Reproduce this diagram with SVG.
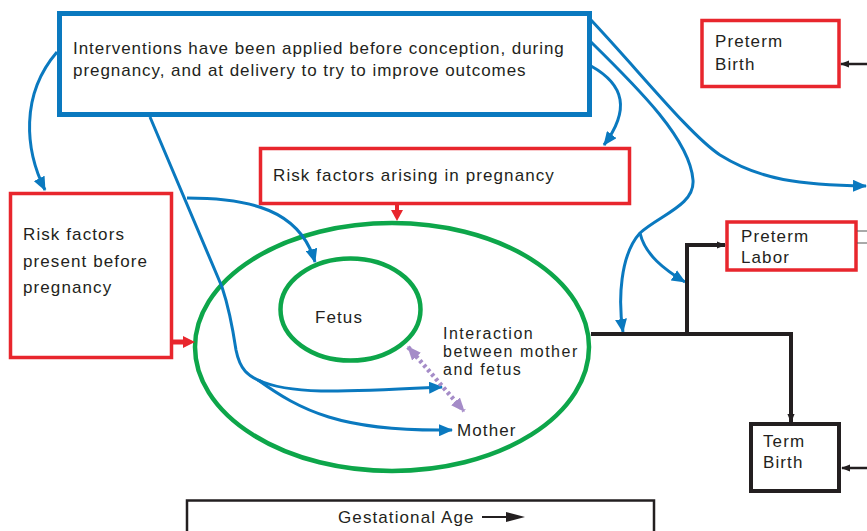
<svg xmlns="http://www.w3.org/2000/svg" width="867" height="531" viewBox="0 0 867 531">
<style>
text{font-family:"Liberation Sans",Arial,Helvetica,sans-serif;font-size:17px;letter-spacing:1.1px;fill:#231f20}
.sm{font-size:16px;letter-spacing:1.5px}
.top{letter-spacing:0.95px}
.red{fill:#fff;stroke:#e8262d;stroke-width:3.5}
.blue{fill:none;stroke:#0a79bf;stroke-width:3}
.green{fill:none;stroke:#0da64a;stroke-width:4.5}
.blk{fill:none;stroke:#231f20;stroke-width:4}
</style>
<defs>
<marker id="ab" viewBox="0 0 14 12" refX="13" refY="6" markerWidth="14" markerHeight="12" markerUnits="userSpaceOnUse" orient="auto"><path d="M0,0L14,6L0,12Z" fill="#0a79bf"/></marker>
<marker id="ak" viewBox="0 0 10 8" refX="9" refY="4" markerWidth="9" markerHeight="8" markerUnits="userSpaceOnUse" orient="auto"><path d="M0,0L10,4L0,8Z" fill="#231f20"/></marker>
<marker id="ap" viewBox="0 0 12 10" refX="11" refY="5" markerWidth="14" markerHeight="12" markerUnits="userSpaceOnUse" orient="auto-start-reverse"><path d="M0,0L12,5L0,10Z" fill="#a58cc8"/></marker>
</defs>

<g id="mother-ellipse"><ellipse class="green" cx="392" cy="347" rx="197" ry="124"/><text x="457" y="436">Mother</text></g>
<g id="fetus"><ellipse class="green" cx="350.5" cy="309.5" rx="70" ry="51"/><text x="315" y="323">Fetus</text></g>
<g id="interaction"><text class="sm" x="443" y="339">Interaction</text><text class="sm" x="443" y="357">between mother</text><text class="sm" x="443" y="375">and fetus</text></g>

<g id="interventions"><rect x="59.5" y="13.5" width="530" height="101" fill="#fff" stroke="#0a79bf" stroke-width="5"/>
<text class="top" x="73" y="54">Interventions have been applied before conception, during</text>
<text class="top" x="73" y="76">pregnancy, and at delivery to try to improve outcomes</text></g>

<g id="risk-before"><rect class="red" x="10.5" y="193.5" width="161" height="164"/>
<text x="23" y="240">Risk factors</text><text x="23" y="267">present before</text><text x="23" y="293">pregnancy</text></g>

<g id="risk-arising"><rect class="red" x="260.5" y="148.5" width="369" height="55"/>
<text x="273" y="181">Risk factors arising in pregnancy</text></g>

<g id="preterm-birth"><rect class="red" x="702" y="20.5" width="137" height="66"/>
<text x="715" y="47">Preterm</text><text x="715" y="70">Birth</text></g>

<g id="preterm-labor"><rect class="red" x="727" y="222" width="129" height="48"/>
<text x="741" y="242">Preterm</text><text x="741" y="263">Labor</text></g>

<g id="term-birth"><rect x="751" y="424" width="88" height="67" fill="#fff" stroke="#231f20" stroke-width="4"/>
<text x="763" y="447">Term</text><text x="763" y="468">Birth</text></g>

<g id="gestational-age"><path d="M187,531V500.5H654V531" fill="none" stroke="#231f20" stroke-width="2.5"/>
<text x="338" y="523">Gestational Age</text>
<path d="M482,517H508" stroke="#231f20" stroke-width="2"/><path d="M506,512L525,517L506,522Z" fill="#231f20"/></g>

<g id="connectors">
<path class="blue" d="M57,52C20,95 25,150 45,190" marker-end="url(#ab)"/>
<path class="blue" d="M150,117L222,287C228,305 233,330 236,350C240,370 248,376 262,382"/>
<path class="blue" d="M258,380C290,395 340,392 442,387" marker-end="url(#ab)"/>
<path class="blue" d="M258,380C300,410 340,432 452,430" marker-end="url(#ab)"/>
<path class="blue" d="M187,198C250,198 300,210 315,262" marker-end="url(#ab)"/>
<path class="blue" d="M591,20C640,72 690,135 720,155C760,180 800,185 866,186" marker-end="url(#ab)"/>
<path class="blue" d="M591,42C640,90 690,140 693,180C695,205 660,215 640,233C620,255 618,300 623,332" marker-end="url(#ab)"/>
<path class="blue" d="M640,233C645,255 665,270 685,282" marker-end="url(#ab)"/>
<path class="blue" d="M591,66C625,85 630,110 604,145" marker-end="url(#ab)"/>
<path class="blk" d="M591,334H791V422" marker-end="url(#ak)"/>
<path class="blk" d="M687,334V245H725" marker-end="url(#ak)"/>
<path d="M867,64H841" stroke="#231f20" stroke-width="2.5" marker-end="url(#ak)"/>
<path d="M867,468H842" stroke="#231f20" stroke-width="2.5" marker-end="url(#ak)"/>
<path d="M857,231H867M857,243H867" stroke="#555" stroke-width="1.2"/>
<path d="M172,342H184" stroke="#e8262d" stroke-width="5"/><path d="M183,336L195,342L183,348Z" fill="#e8262d"/>
<path d="M397,204V212" stroke="#e8262d" stroke-width="4"/><path d="M391,210L397,221L403,210Z" fill="#e8262d"/>
<path d="M408,347L464,411" stroke="#a58cc8" stroke-width="4.5" stroke-dasharray="3,3" marker-start="url(#ap)" marker-end="url(#ap)"/>
</g>
</svg>
